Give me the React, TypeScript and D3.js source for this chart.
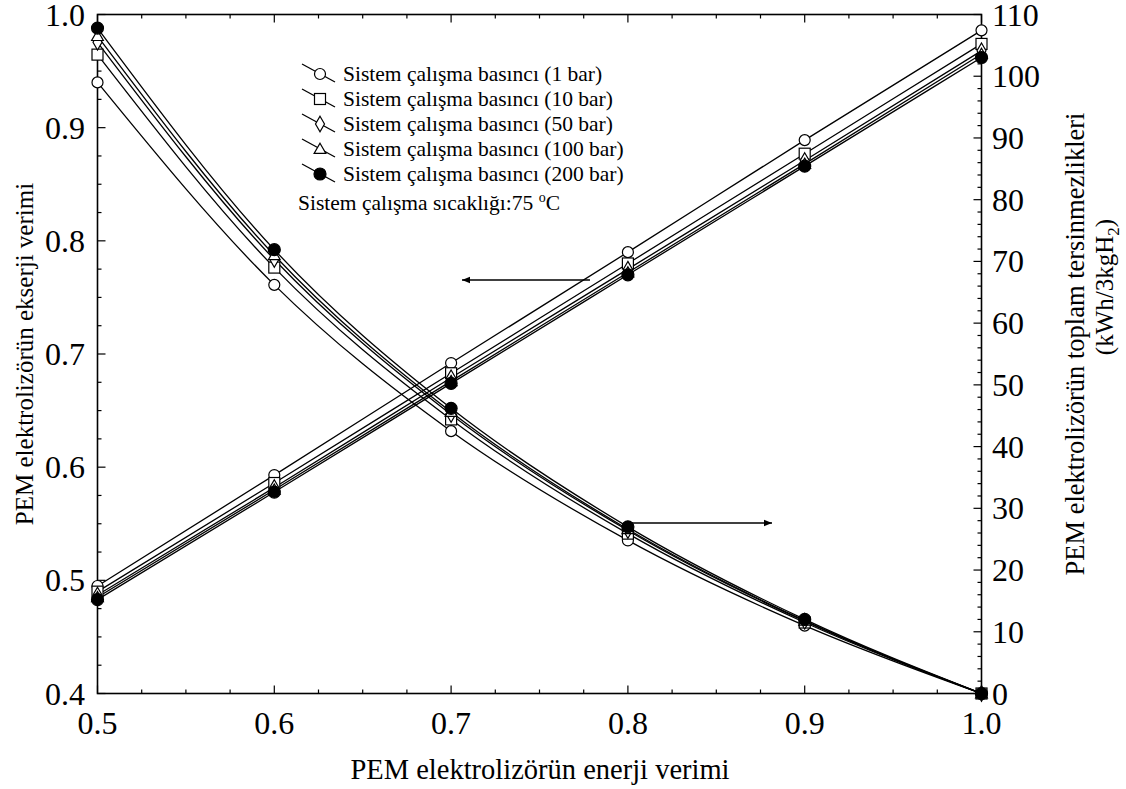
import React from "react";
import * as d3 from "d3";

const energyEff = [0.5, 0.6, 0.7, 0.8, 0.9, 1.0];
const seriesNames = [
  "Sistem çalışma basıncı (1 bar)",
  "Sistem çalışma basıncı (10 bar)",
  "Sistem çalışma basıncı (50 bar)",
  "Sistem çalışma basıncı (100 bar)",
  "Sistem çalışma basıncı (200 bar)",
];
const seriesSymbols = ["circle", "square", "diamond", "triangle", "filled"];
// exergy efficiency (left axis)
const exergy1 = [0.495, 0.593, 0.692, 0.790, 0.889, 0.986];
const exergy10 = [0.490, 0.586, 0.683, 0.780, 0.877, 0.974];
const exergy50 = [0.487, 0.582, 0.679, 0.775, 0.871, 0.968];
const exergy100 = [0.485, 0.580, 0.676, 0.772, 0.868, 0.965];
const exergy200 = [0.483, 0.578, 0.674, 0.770, 0.866, 0.962];
// total irreversibility (right axis)
const irr1 = [99.0, 66.2, 42.5, 24.8, 11.0, 0];
const irr10 = [103.5, 69.0, 44.4, 25.9, 11.5, 0];
const irr50 = [105.5, 70.3, 45.2, 26.4, 11.7, 0];
const irr100 = [106.5, 71.0, 45.6, 26.6, 11.8, 0];
const irr200 = [107.8, 71.9, 46.2, 27.0, 12.0, 0];

const xTicks = [0.5, 0.6, 0.7, 0.8, 0.9, 1.0];
const yLeftTicks = [0.4, 0.5, 0.6, 0.7, 0.8, 0.9, 1.0];
const yRightTicks = [0, 10, 20, 30, 40, 50, 60, 70, 80, 90, 100, 110];

const exergySeries = [exergy1, exergy10, exergy50, exergy100, exergy200];
const irrSeries = [irr1, irr10, irr50, irr100, irr200];

const W = 1126;
const H = 789;
const L = 97.5, R = 981.5, T = 14.5, B = 693.5;
const FS = { fontFamily: '"Liberation Serif", "Times New Roman", serif' };

function Marker({ type, x, y }: { type: string; x: number; y: number }) {
  const sw = 1.2;
  if (type === "circle")
    return <circle cx={x} cy={y} r={5.5} fill="white" stroke="black" strokeWidth={sw} />;
  if (type === "filled")
    return <circle cx={x} cy={y} r={6} fill="black" stroke="black" strokeWidth={sw} />;
  if (type === "square")
    return <rect x={x - 5.5} y={y - 5.5} width={11} height={11} fill="white" stroke="black" strokeWidth={sw} />;
  if (type === "diamond") {
    const p = d3.symbol().type(d3.symbolDiamond).size(70)();
    return <path d={p || ""} transform={`translate(${x},${y})`} fill="white" stroke="black" strokeWidth={sw} />;
  }
  const p = d3.symbol().type(d3.symbolTriangle).size(60)();
  return <path d={p || ""} transform={`translate(${x},${y + 1})`} fill="white" stroke="black" strokeWidth={sw} />;
}

export default function App() {
  const x = d3.scaleLinear().domain([0.5, 1.0]).range([L, R]);
  const yL = d3.scaleLinear().domain([0.4, 1.0]).range([B, T]);
  const yR = d3.scaleLinear().domain([0, 110]).range([B, T]);

  const lineL = d3
    .line<number>()
    .x((_, i) => x(energyEff[i]))
    .y((d) => yL(d))
    .curve(d3.curveMonotoneX);
  const lineR = d3
    .line<number>()
    .x((_, i) => x(energyEff[i]))
    .y((d) => yR(d))
    .curve(d3.curveMonotoneX);

  const xMinor = d3.range(0.5, 1.0001, 0.025);
  const yLMinor = d3.range(0.4, 1.0001, 0.025);
  const yRMinor = d3.range(0, 110.001, 2);

  const MAJ = 8, MIN = 4;
  const legendX = 302;
  const legendBase = [81, 106, 131, 156, 181];

  return (
    <svg width={W} height={H} style={{ position: "absolute", left: 0, top: 0, background: "white", ...FS }}>
      <defs>
        <marker id="ah" viewBox="0 0 10 10" refX="10" refY="5" markerWidth="14" markerHeight="8" markerUnits="userSpaceOnUse" orient="auto">
          <path d="M0,1 L10,5 L0,9 Z" fill="black" />
        </marker>
      </defs>
      {/* frame */}
      <rect x={L} y={T} width={R - L} height={B - T} fill="none" stroke="black" strokeWidth={1.6} />

      {/* x ticks bottom & top */}
      {xMinor.map((v, i) => {
        const isMaj = i % 4 === 0;
        const len = isMaj ? MAJ : MIN;
        return (
          <g key={"xt" + i}>
            <line x1={x(v)} x2={x(v)} y1={B} y2={B - len} stroke="black" strokeWidth={1.2} />
            <line x1={x(v)} x2={x(v)} y1={T} y2={T + len} stroke="black" strokeWidth={1.2} />
          </g>
        );
      })}
      {/* left ticks */}
      {yLMinor.map((v, i) => {
        const len = i % 4 === 0 ? MAJ : MIN;
        return <line key={"yl" + i} x1={L} x2={L + len} y1={yL(v)} y2={yL(v)} stroke="black" strokeWidth={1.2} />;
      })}
      {/* right ticks */}
      {yRMinor.map((v, i) => {
        const len = i % 5 === 0 ? MAJ : MIN;
        return <line key={"yr" + i} x1={R} x2={R - len} y1={yR(v)} y2={yR(v)} stroke="black" strokeWidth={1.2} />;
      })}

      {/* tick labels */}
      {xTicks.map((v) => (
        <text key={"xl" + v} x={x(v)} y={734} textAnchor="middle" fontSize={32} style={FS}>
          {v.toFixed(1)}
        </text>
      ))}
      {yLeftTicks.map((v) => (
        <text key={"yll" + v} x={85} y={yL(v) + 11} textAnchor="end" fontSize={32} style={FS}>
          {v.toFixed(1)}
        </text>
      ))}
      {yRightTicks.map((v) => (
        <text key={"yrl" + v} x={992} y={yR(v) + 11} textAnchor="start" fontSize={32} style={FS}>
          {v}
        </text>
      ))}

      {/* axis titles */}
      <text x={540} y={779} textAnchor="middle" fontSize={28.5} style={FS}>PEM elektrolizörün enerji verimi</text>
      <text transform={`translate(33,${(T + B) / 2}) rotate(-90)`} textAnchor="middle" fontSize={25} style={FS}>
        PEM elektrolizörün ekserji verimi
      </text>
      <text transform={`translate(1084,344) rotate(-90)`} textAnchor="middle" fontSize={26.5} style={FS}>
        PEM elektrolizörün toplam tersinmezlikleri
      </text>
      <text transform={`translate(1113,287) rotate(-90)`} textAnchor="middle" fontSize={25} style={FS}>
        (kWh/3kgH<tspan fontSize={17} dy={6}>2</tspan><tspan dy={-6}>)</tspan>
      </text>

      {/* lines */}
      {exergySeries.map((s, k) => (
        <path key={"le" + k} d={lineL(s) || ""} fill="none" stroke="black" strokeWidth={1.3} />
      ))}
      {irrSeries.map((s, k) => (
        <path key={"li" + k} d={lineR(s) || ""} fill="none" stroke="black" strokeWidth={1.3} />
      ))}
      {/* markers */}
      {exergySeries.map((s, k) =>
        s.map((v, i) => <Marker key={`me${k}-${i}`} type={seriesSymbols[k]} x={x(energyEff[i])} y={yL(v)} />)
      )}
      {irrSeries.map((s, k) =>
        s.map((v, i) => <Marker key={`mi${k}-${i}`} type={seriesSymbols[k]} x={x(energyEff[i])} y={yR(v)} />)
      )}

      {/* arrows */}
      <line x1={590} y1={280} x2={462} y2={280} stroke="black" strokeWidth={1.3} markerEnd="url(#ah)" />
      <line x1={628} y1={523} x2={772} y2={523} stroke="black" strokeWidth={1.3} markerEnd="url(#ah)" />

      {/* legend */}
      {seriesNames.map((name, k) => {
        const b = legendBase[k];
        return (
          <g key={"lg" + k}>
            <line x1={legendX} y1={b - 17} x2={legendX + 33} y2={b + 1} stroke="black" strokeWidth={1.3} />
            <Marker type={seriesSymbols[k]} x={legendX + 18} y={b - 7} />
            <text x={343} y={b} fontSize={21.5} style={FS}>{name}</text>
          </g>
        );
      })}
      <text x={298} y={210} fontSize={21.5} style={FS}>
        Sistem çalışma sıcaklığı:75 <tspan dy={-8} fontSize={14}>o</tspan>
        <tspan dy={8}>C</tspan>
      </text>
    </svg>
  );
}
